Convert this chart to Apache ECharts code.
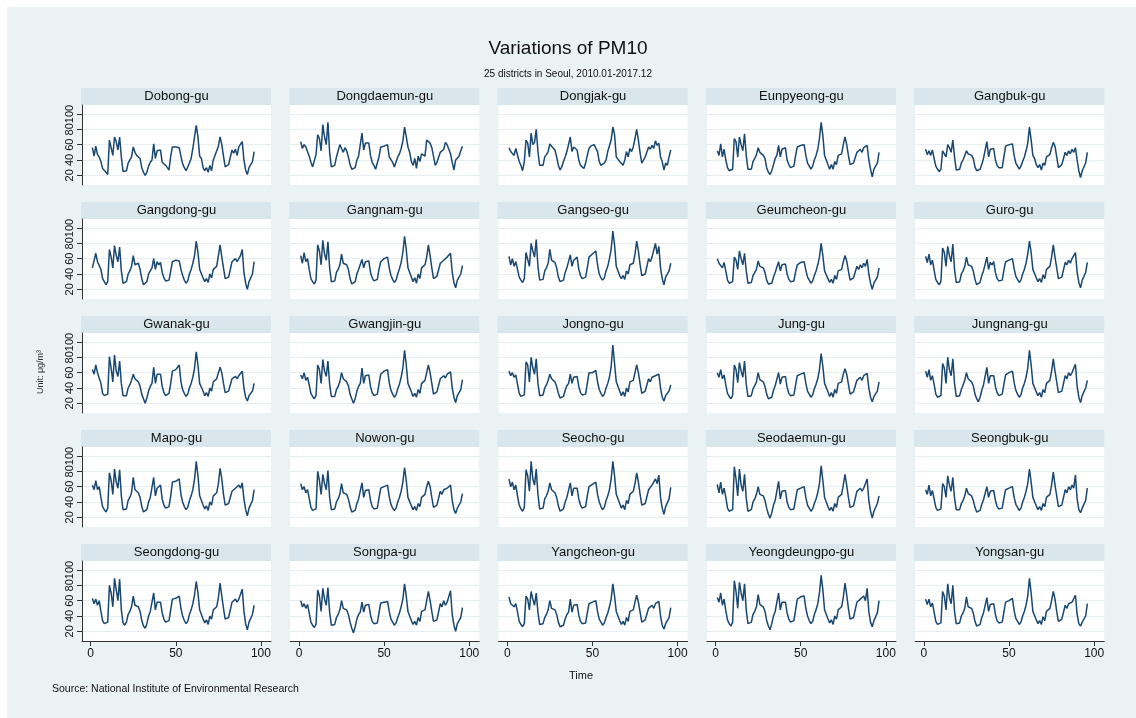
<!DOCTYPE html>
<html>
<head>
<meta charset="utf-8">
<title>Variations of PM10</title>
<script src="https://cdn.jsdelivr.net/npm/echarts@6/dist/echarts.min.js"></script>
<style>
  html, body { margin: 0; padding: 0; background: #fff; }
  #chart { width: 1136px; height: 718px; }
</style>
</head>
<body>
<div id="chart"></div>
<script>
// panel titles, in panel order (5 x 5)
const districts = [
  'Dobong-gu', 'Dongdaemun-gu', 'Dongjak-gu', 'Eunpyeong-gu', 'Gangbuk-gu',
  'Gangdong-gu', 'Gangnam-gu', 'Gangseo-gu', 'Geumcheon-gu', 'Guro-gu',
  'Gwanak-gu', 'Gwangjin-gu', 'Jongno-gu', 'Jung-gu', 'Jungnang-gu',
  'Mapo-gu', 'Nowon-gu', 'Seocho-gu', 'Seodaemun-gu', 'Seongbuk-gu',
  'Seongdong-gu', 'Songpa-gu', 'Yangcheon-gu', 'Yeongdeungpo-gu', 'Yongsan-gu'
]
// axis ticks
const xTicks = [0, 50, 100]
const yTicks = [20, 40, 60, 80, 100]

// monthly PM10 (μg/m³), 2010.01 - 2017.12, time = 1..96
const dobong = [56,45,58,47,44,38,29,27,24,21,66,64, 46,70,64,53,70,44,25,25,26,36,38,44, 57,50,46,47,42,30,24,20,24,32,37,40, 61,42,52,50,53,37,35,33,30,27,45,57, 56,57,58,56,45,35,30,26,28,36,42,55, 70,85,70,45,42,30,26,30,24,33,26,40, 46,47,58,70,60,45,31,33,34,36,53,49, 54,46,57,58,64,40,27,21,30,29,38,51]
const dongdaemun = [64,55,60,57,59,45,37,31,29,47,73,68, 52,86,70,60,89,50,31,30,33,44,43,60, 55,50,56,52,44,34,28,26,30,40,45,47, 75,53,62,62,62,46,37,33,28,36,44,57, 57,58,59,60,44,46,37,31,31,44,48,55, 65,83,70,57,50,38,33,42,29,45,38,48, 48,45,66,64,62,56,45,33,37,37,50,48, 54,63,60,58,48,37,27,40,38,45,52,58]
const dongjak = [56,51,53,46,55,57,38,33,26,38,66,62, 44,75,60,63,80,51,33,31,33,44,47,51, 61,58,57,53,44,33,27,31,38,44,51,49, 70,51,57,55,53,40,33,31,29,36,46,55, 58,59,60,62,51,38,33,31,36,40,51,53, 66,83,73,44,44,38,40,33,40,51,44,55, 51,57,68,80,66,49,36,40,44,46,57,54, 59,55,65,59,62,44,38,27,36,33,44,53]
const eunpyeong = [52,46,61,44,54,40,30,26,24,28,68,64, 44,70,60,52,74,46,28,26,28,38,42,47, 56,50,52,46,42,30,24,21,26,34,42,46, 59,44,54,52,56,40,34,30,28,32,46,57, 58,59,60,60,46,36,32,28,32,40,46,54, 68,89,72,46,44,34,28,34,28,38,34,46, 46,48,60,70,60,46,34,34,36,38,50,48, 54,50,56,54,59,40,28,18,28,26,36,50]
const gangbuk = [54,47,52,46,53,42,32,28,25,28,52,50, 44,60,56,50,66,44,27,26,28,36,40,46, 52,48,50,46,42,31,26,24,28,34,42,44, 64,44,54,52,55,40,33,30,28,30,44,58, 58,60,60,61,46,36,32,28,32,38,44,52, 62,83,66,46,42,34,30,34,27,36,33,44, 46,47,56,63,58,44,30,32,34,36,50,46, 52,48,54,50,56,40,26,17,26,25,36,50]
const gangdong = [48,46,67,56,58,46,34,30,26,30,72,62, 48,77,64,56,75,44,28,27,30,40,44,50, 64,52,50,54,46,34,26,25,30,40,44,48, 60,46,56,52,55,42,35,31,30,32,44,56, 58,58,58,57,46,38,32,28,31,40,46,54, 64,83,68,46,44,35,30,34,29,40,35,46, 48,50,64,78,62,48,34,34,36,38,56,54, 60,56,58,64,72,42,28,20,30,28,40,56]
const gangnam = [64,54,68,56,60,46,34,30,27,32,78,70, 52,84,66,58,82,48,30,28,31,42,46,52, 66,54,54,52,46,34,27,26,30,40,46,48, 59,48,56,54,57,42,35,31,29,33,46,56, 58,60,60,62,48,38,33,29,32,40,47,55, 68,89,72,48,46,36,30,35,28,40,34,48, 48,52,62,78,64,48,34,35,37,38,54,52, 58,56,62,60,67,42,29,22,32,30,40,51]
const gangseo = [63,52,60,50,56,46,36,32,29,34,68,66, 50,80,70,62,85,50,32,30,33,44,48,54, 72,58,56,55,48,36,30,28,32,42,48,50, 65,50,58,58,62,46,38,34,32,36,48,62, 64,66,66,70,52,40,35,32,35,44,50,60, 72,96,78,50,48,38,34,38,33,44,40,52, 52,54,66,83,70,52,38,38,40,42,60,56, 62,60,80,66,76,48,34,26,36,34,44,54]
const geumcheon = [60,54,55,48,55,44,32,28,26,30,62,58, 46,70,60,52,67,44,28,26,29,38,40,46, 57,50,50,48,42,32,27,25,28,36,42,44, 56,44,52,50,53,40,33,30,28,31,43,52, 54,55,56,56,45,36,32,28,31,38,44,52, 62,80,64,44,42,34,29,33,28,38,33,44, 45,46,56,64,57,44,32,33,35,36,50,46, 52,48,54,50,59,40,28,20,28,26,36,48]
const guro = [63,55,66,52,58,45,33,29,26,30,74,68, 50,76,64,56,79,46,29,27,30,40,44,50, 62,52,52,50,44,33,26,24,29,38,44,46, 62,46,55,52,56,42,34,31,29,32,45,56, 58,58,59,60,47,37,33,29,32,40,46,54, 66,83,68,46,44,35,30,34,29,39,34,46, 47,50,62,78,62,48,34,34,36,38,55,52, 58,54,60,58,68,42,29,22,32,30,42,55]
const gwanak = [64,58,70,60,62,46,33,30,28,32,81,66, 48,83,62,55,75,46,30,28,30,40,44,50, 58,52,50,48,42,32,26,20,27,36,42,46, 67,46,58,56,58,42,34,30,28,33,46,62, 62,64,66,70,48,38,33,29,32,40,46,54, 66,87,70,46,44,36,30,34,29,40,36,48, 50,52,60,67,60,46,34,34,36,38,52,50, 55,52,56,54,62,40,28,23,30,28,36,46]
const gwangjin = [57,52,60,50,54,44,33,29,26,30,70,64, 46,77,62,55,75,45,29,27,29,38,42,48, 60,52,50,48,43,32,26,20,26,36,42,46, 66,46,56,54,57,42,34,30,28,32,45,58, 60,62,62,64,47,37,32,28,31,39,45,54, 66,89,70,46,44,35,29,33,28,38,33,46, 47,50,60,70,60,46,32,33,35,37,52,50, 56,53,58,56,61,40,28,21,30,28,38,51]
const jongno = [62,56,60,54,57,45,33,29,27,31,74,70, 48,80,66,58,78,46,30,28,31,40,44,50, 58,52,50,48,42,33,27,25,29,37,43,46, 58,46,54,52,55,42,34,31,29,32,46,60, 60,60,61,63,48,38,33,29,32,40,46,54, 68,96,72,48,46,36,30,35,29,40,35,48, 48,50,60,70,60,46,33,34,36,38,52,48, 54,52,56,54,58,40,28,23,30,28,36,44]
const jung = [60,54,64,52,57,44,33,29,26,30,70,64, 47,73,62,54,75,45,29,27,30,39,43,48, 60,51,50,48,42,32,26,24,28,37,43,45, 60,45,54,52,55,41,33,30,28,31,44,56, 57,58,58,60,46,36,32,28,31,39,45,52, 64,85,68,46,44,35,29,34,28,38,33,46, 46,48,58,65,58,45,32,33,35,37,50,48, 54,50,56,54,59,40,28,22,29,27,36,48]
const jungnang = [62,54,64,50,56,45,32,28,26,30,72,66, 46,80,64,56,78,46,29,27,30,38,44,50, 60,52,51,48,43,32,26,22,28,37,44,46, 67,46,56,54,56,42,34,30,28,32,45,57, 58,60,60,62,47,37,32,28,31,40,46,54, 66,89,70,46,44,35,30,34,28,38,34,46, 48,50,62,78,62,48,34,34,36,38,56,52, 60,56,60,58,71,42,28,21,30,28,40,50]
const mapo = [62,56,68,56,60,46,34,30,27,32,78,68, 50,83,66,58,82,48,30,28,31,42,46,52, 72,56,54,52,46,34,27,25,30,40,46,48, 72,48,58,60,62,44,36,32,30,34,48,66, 66,67,66,70,50,40,34,30,33,42,48,56, 70,93,74,48,46,36,31,35,29,40,36,48, 50,52,64,84,70,50,36,36,38,40,54,52, 58,56,62,58,65,44,30,22,32,30,42,56]
const nowon = [64,56,60,52,56,45,33,29,27,31,80,68, 50,76,64,56,81,46,30,28,31,40,44,50, 64,52,52,50,44,34,27,25,29,38,44,46, 65,46,55,54,56,42,34,31,29,32,45,58, 60,60,62,62,47,37,32,29,32,40,46,54, 66,85,68,46,44,35,30,34,29,38,34,46, 48,50,60,67,60,46,33,34,36,38,54,50, 56,54,58,56,62,42,30,25,32,30,40,51]
const seocho = [70,60,66,56,62,48,36,31,28,33,82,74, 54,93,70,62,83,50,31,29,32,44,48,54, 65,56,55,52,46,35,28,26,31,40,46,48, 65,48,58,56,58,44,36,32,30,34,48,60, 62,63,64,66,50,40,34,30,33,42,48,56, 70,93,74,50,48,38,32,36,30,42,38,50, 50,54,64,78,66,50,36,36,38,40,56,54, 62,60,70,64,75,46,32,24,34,32,44,59]
const seodaemun = [63,52,66,50,58,46,32,28,26,30,86,70, 48,83,62,54,76,45,28,26,30,40,44,50, 60,50,50,48,42,32,24,19,26,36,42,44, 67,44,54,52,55,40,33,30,28,31,44,56, 58,58,60,60,46,36,32,28,31,38,44,52, 64,87,68,46,44,34,29,33,28,38,33,46, 47,50,62,76,62,46,33,33,35,37,54,52, 58,54,58,56,70,42,28,19,28,26,38,48]
const seongbuk = [56,50,62,48,55,44,33,29,27,31,64,60, 46,74,62,54,72,45,30,28,30,38,42,48, 58,51,50,48,42,33,27,26,29,37,43,45, 60,46,54,52,55,42,34,31,29,32,45,56, 57,58,58,60,46,37,33,29,32,40,46,54, 64,83,66,46,44,35,30,34,29,38,34,46, 48,50,62,79,62,48,34,34,36,38,56,52, 60,56,62,58,75,44,30,26,32,30,42,58]
const seongdong = [63,56,62,54,60,46,34,30,28,32,80,70, 52,89,74,60,88,48,31,28,32,42,46,52, 66,54,54,52,46,34,27,24,30,40,46,48, 70,48,58,56,58,44,36,32,30,34,48,62, 62,63,64,66,50,40,34,30,33,42,48,56, 68,85,70,48,46,36,31,35,29,40,36,48, 50,52,64,83,66,50,36,36,38,40,58,56, 62,58,62,60,75,46,30,22,32,30,42,54]
const songpa = [60,52,56,50,55,44,32,28,25,29,74,66, 46,76,62,54,77,45,28,26,29,38,42,48, 60,50,50,48,42,32,24,18,26,36,42,45, 58,45,54,52,55,41,33,30,28,31,44,57, 57,58,58,59,46,36,32,28,31,38,44,52, 62,82,66,46,44,34,29,33,28,38,33,46, 46,48,60,72,60,46,33,33,35,37,56,52, 60,54,58,56,73,42,28,20,30,28,38,51]
const yangcheon = [65,56,58,52,56,45,33,29,26,30,66,62, 48,72,62,54,70,45,29,27,30,38,42,48, 60,50,50,48,42,32,26,24,28,36,42,45, 62,45,54,52,55,41,33,30,28,31,44,56, 57,58,58,60,46,36,32,28,31,38,44,52, 62,82,66,46,44,34,29,33,28,38,33,46, 46,48,58,67,58,45,32,33,35,37,50,48, 54,50,56,54,59,40,28,23,30,28,38,51]
const yeongdeungpo = [64,58,70,54,62,47,35,30,27,32,86,72, 50,84,70,60,82,48,30,28,32,42,46,52, 68,55,54,52,46,34,27,22,30,40,46,48, 70,48,58,56,58,44,36,32,30,34,48,62, 64,65,66,66,50,40,34,30,33,42,48,56, 70,93,74,48,46,36,31,35,29,40,36,48, 50,52,64,83,68,50,36,36,38,40,58,56, 62,60,66,60,76,46,32,26,34,32,44,60]
const yongsan = [62,55,62,52,57,45,33,29,27,31,72,66, 48,82,64,56,80,46,30,28,31,40,44,50, 65,52,52,50,44,33,27,26,29,38,44,46, 64,46,55,54,56,42,34,31,29,32,45,58, 60,60,62,63,47,37,33,29,32,40,46,54, 66,89,70,46,44,35,30,34,29,39,34,46, 47,50,60,72,62,46,33,34,36,38,54,50, 56,54,58,56,67,42,30,27,32,30,40,56]

const panels = [
  dobong, dongdaemun, dongjak, eunpyeong, gangbuk,
  gangdong, gangnam, gangseo, geumcheon, guro,
  gwanak, gwangjin, jongno, jung, jungnang,
  mapo, nowon, seocho, seodaemun, seongbuk,
  seongdong, songpa, yangcheon, yeongdeungpo, yongsan
]

const font = '"Liberation Sans", Arial, sans-serif'
// panel layout
const colLeft = 82
const colStep = 208.3
const rowTop = 105
const rowStep = 114
const plotW = 189
const plotH = 80
const stripH = 17

const chart = echarts.init(document.getElementById('chart'))

const grid = []
const xAxis = []
const yAxis = []
const series = []
const graphic = [
  // graph region background
  { type: 'rect', z: -10, silent: true, shape: { x: 7, y: 7, width: 1129, height: 711 }, style: { fill: '#eaf2f3' } },
  { type: 'text', left: 581 - 12, top: 670, style: { text: 'Time', fontSize: 11, fill: '#111', fontFamily: font } },
  { type: 'text', left: 52, top: 684, style: { text: 'Source: National Institute of Environmental Research', fontSize: 10.5, fill: '#111', fontFamily: font } },
  { type: 'text', x: 41, y: 372, rotation: Math.PI / 2, style: { text: 'Unit: μg/m³', fontSize: 9, fill: '#333', fontFamily: font, align: 'center', verticalAlign: 'middle' } }
]

districts.forEach((name, k) => {
  const r = Math.floor(k / 5)
  const c = k % 5
  const left = colLeft + c * colStep
  const top = rowTop + r * rowStep
  grid.push({ left, top, width: plotW, height: plotH, show: true, backgroundColor: '#fff', borderWidth: 0 })
  xAxis.push({
    gridIndex: k, type: 'value', min: -5.1, max: 105.9,
    axisLine: { show: r === 4, onZero: false, lineStyle: { color: '#333', width: 1 } },
    axisTick: { show: r === 4, customValues: xTicks, length: 5, lineStyle: { color: '#333' } },
    axisLabel: { show: r === 4, customValues: xTicks, fontSize: 12, color: '#111', margin: 7, fontFamily: font },
    splitLine: { show: false }
  })
  yAxis.push({
    gridIndex: k, type: 'value', min: 7.4, max: 111.7,
    axisLine: { show: c === 0, onZero: false, lineStyle: { color: '#333', width: 1 } },
    axisTick: { show: c === 0, customValues: yTicks, length: 5, lineStyle: { color: '#333' } },
    axisLabel: { show: c === 0, customValues: yTicks, rotate: 90, fontSize: 11, color: '#111', margin: 7, fontFamily: font },
    splitLine: { show: true, lineStyle: { color: '#e6eef1', width: 1 } }
  })
  series.push({
    type: 'line', xAxisIndex: k, yAxisIndex: k,
    data: panels[k].map((v, i) => [i + 1, v]),
    showSymbol: false, silent: true,
    lineStyle: { color: '#1a476f', width: 1.5 }
  })
  // strip with district name
  graphic.push({ type: 'rect', silent: true, shape: { x: left - 1, y: top - stripH, width: plotW + 1, height: stripH }, style: { fill: '#d9e6eb' } })
  graphic.push({ type: 'text', silent: true, x: left + plotW / 2, y: top - stripH / 2, style: { text: name, fontSize: 13, fill: '#111', fontFamily: font, align: 'center', verticalAlign: 'middle' } })
})

const option = {
  animation: false,
  backgroundColor: '#fff',
  title: [
    { text: 'Variations of PM10', left: 'center', top: 34, textStyle: { fontSize: 19, fontWeight: 'normal', color: '#111', fontFamily: font } },
    { text: '25 districts in Seoul, 2010.01-2017.12', left: 'center', top: 64, textStyle: { fontSize: 10, fontWeight: 'normal', color: '#111', fontFamily: font } }
  ],
  grid,
  xAxis,
  yAxis,
  series,
  graphic
}
chart.setOption(option)
</script>
</body>
</html>
